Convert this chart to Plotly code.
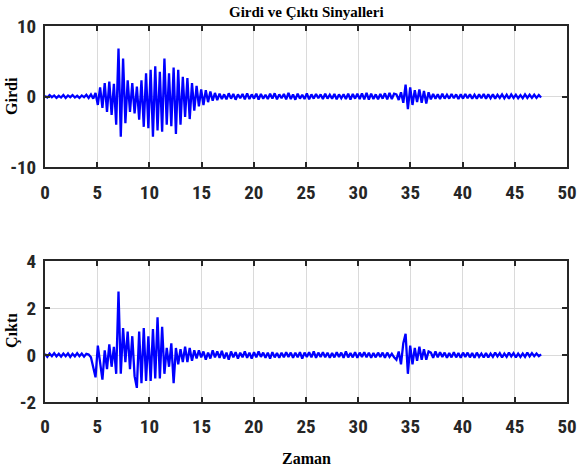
import plotly.graph_objects as go

# sampling step of the recorded signals (s)
dt = 0.22
n_samples = 217
zaman = [round(dt * i, 2) for i in range(n_samples)]

# Girdi (input) signal values
girdi = [
    # 0 - 4.6 s quiet
    0.1, -0.15, 0.2, -0.1, 0.15, -0.2, 0.1, -0.15, 0.2, -0.2,
    0.15, -0.1, 0.2, -0.15, 0.1, -0.2, 0.15, -0.1, 0.25, -0.2, 0.3, -0.3,
    # strong motion 4.8 - 16.5 s
    0.5, -1.2, 1.3, -1.6, 1.9, -2.2, 2.1, -2.6, 1.8, -4.0,
    6.8, -5.7, 5.4, -3.8, 2.3, -2.2, 1.9, -2.4, 1.4, -3.3,
    2.3, -4.3, 3.3, -4.5, 3.8, -5.7, 4.3, -4.8, 3.5, -5.0,
    5.4, -4.0, 3.3, -4.2, 4.1, -5.3, 3.8, -4.0, 2.8, -2.9,
    2.6, -3.2, 1.9, -2.0, 1.5, -1.4, 1.0, -1.2, 0.9, -0.8,
    0.7, -0.6, 0.5, -0.5,
    # 16.7 - 33.4 s
    0.4, -0.35, 0.3, -0.4, 0.45, -0.3, 0.35, -0.45, 0.3, -0.25,
    0.35, -0.4, 0.45, -0.35, 0.3, -0.3, 0.4, -0.45, 0.35, -0.3,
    0.25, -0.35, 0.4, -0.3, 0.45, -0.4, 0.3, -0.25, 0.35, -0.4,
    0.5, -0.35, 0.3, -0.45, 0.4, -0.3, 0.25, -0.35, 0.45, -0.4,
    0.3, -0.3, 0.35, -0.25, 0.3, -0.35, 0.4, -0.3, 0.25, -0.3,
    0.35, -0.4, 0.3, -0.25, 0.3, -0.35, 0.4, -0.45, 0.35, -0.3,
    0.4, -0.35, 0.45, -0.4, 0.5, -0.45, 0.4, -0.35, 0.3, -0.4,
    0.35, -0.3, 0.45, -0.4, 0.5, -0.35, 0.4,
    # burst 33.7 - 37 s
    0.3, -0.5, 0.6, -0.9, 1.7, -1.8, 1.3, -1.2, 0.9, -0.8,
    1.0, -0.9, 0.8, -1.0, 0.6, -0.4,
    # tail 37.2 - 47.5 s
    0.35, -0.3, 0.3, -0.35, 0.4, -0.3, 0.25, -0.3, 0.35, -0.25,
    0.3, -0.35, 0.3, -0.3, 0.35, -0.25, 0.3, -0.3, 0.25, -0.3,
    0.3, -0.25, 0.35, -0.3, 0.3, -0.25, 0.3, -0.3, 0.25, -0.2,
    0.3, -0.25, 0.25, -0.3, 0.3, -0.2, 0.25, -0.25, 0.2, -0.25,
    0.3, -0.2, 0.25, -0.2, 0.25, -0.2, 0.2, -0.15,
]

# Çıktı (output) signal values
cikti = [
    0.05, -0.08, 0.06, -0.05, 0.08, -0.06, 0.05, -0.07, 0.06, -0.05,
    0.07, -0.08, 0.05, -0.06, 0.08, -0.05, 0.06, -0.07, 0.05, 0.02,
    -0.1, -0.6, -0.95, 0.4, -0.3, -1.05, 0.2, -0.6, 0.45, -0.5,
    0.35, -0.8, 2.7, -0.8, 1.15, -0.3, 1.0, -0.6, 0.8, -0.9,
    -1.4, 1.0, -1.2, 1.15, -1.1, 0.8, -1.1, 1.1, -1.0, 1.6,
    -1.0, 1.2, -0.8, 0.3, -0.5, 0.5, -1.2, 0.3, -0.4, 0.25,
    -0.3, 0.35, -0.3, 0.3, -0.25, 0.2,
    -0.15, 0.2, -0.1, 0.15, -0.2, 0.1, -0.15, 0.2, -0.1, 0.15,
    -0.12, 0.18, -0.15, 0.1, -0.2, 0.15, -0.1, 0.12, -0.15, 0.1,
    -0.1, 0.15, -0.12, 0.1, -0.15, 0.12, -0.1, 0.15, -0.08, 0.1,
    -0.12, 0.1, -0.15, 0.12, -0.1, 0.08, -0.12, 0.1, -0.1, 0.12,
    -0.08, 0.1, -0.12, 0.1, -0.1, 0.12, -0.15, 0.1, -0.08, 0.12,
    -0.1, 0.15, -0.12, 0.1, -0.08, 0.12, -0.1, 0.1, -0.12, 0.08,
    -0.1, 0.12, -0.08, 0.1, -0.12, 0.15, -0.1, 0.08, -0.1, 0.12,
    -0.12, 0.1, -0.08, 0.12, -0.1, 0.1, -0.12, 0.08, -0.1, 0.1,
    -0.08, 0.1, -0.12, 0.1, -0.08, 0.05, -0.1,
    -0.2, 0.15, -0.4, 0.5, 0.9, -0.8, 0.4, -0.4, 0.3, -0.25,
    0.35, -0.2, 0.25, -0.2, 0.15,
    0.1, -0.12, 0.15, -0.1, 0.12, -0.08, 0.1, -0.12, 0.08, -0.1,
    0.12, -0.1, 0.08, -0.12, 0.1, -0.08, 0.1, -0.1, 0.08, -0.12,
    0.1, -0.08, 0.06, -0.1, 0.08, -0.1, 0.06, -0.08, 0.1, -0.06,
    0.08, -0.1, 0.06, -0.08, 0.1, -0.06, 0.08, -0.1, 0.06, -0.08,
    0.06, -0.08, 0.1, -0.06, 0.08, -0.05, 0.06, -0.05, 0.03,
]

x_ticks = [0, 5, 10, 15, 20, 25, 30, 35, 40, 45, 50]
girdi_ticks = [-10, 0, 10]
cikti_ticks = [-2, 0, 2, 4]

assert len(girdi) == n_samples and len(cikti) == n_samples

tick_font = dict(family="Roboto Condensed, Open Sans Condensed, sans-serif",
                 size=19, color="#262626", weight="bold")
serif = "Liberation Serif, Times New Roman, serif"
frame = "#262626"

fig = go.Figure()
fig.add_trace(go.Scatter(x=zaman, y=girdi, mode="lines",
                         line=dict(color="#0000ff", width=2.3), xaxis="x", yaxis="y",
                         showlegend=False))
fig.add_trace(go.Scatter(x=zaman, y=cikti, mode="lines",
                         line=dict(color="#0000ff", width=2.3), xaxis="x2", yaxis="y2",
                         showlegend=False))

common = dict(showline=True, linecolor=frame, linewidth=2, mirror="ticks",
              ticks="inside", ticklen=5, tickwidth=2, tickcolor=frame,
              showgrid=True, gridcolor="#dadada", gridwidth=1, zeroline=False,
              tickfont=tick_font, automargin=False)


def labels(vals):
    return [str(v) for v in vals]


fig.update_layout(
    width=577, height=468,
    margin=dict(l=45, r=10, t=26, b=66),
    paper_bgcolor="white", plot_bgcolor="white",
    xaxis=dict(domain=[0, 1], range=[0, 50], tickvals=x_ticks, ticktext=labels(x_ticks),
               anchor="y", ticklabelstandoff=7, **common),
    yaxis=dict(domain=[0.625, 1], range=[-10, 10], tickvals=girdi_ticks,
               ticktext=labels(girdi_ticks), anchor="x", ticklabelstandoff=3, **common),
    xaxis2=dict(domain=[0, 1], range=[0, 50], tickvals=x_ticks, ticktext=labels(x_ticks),
                anchor="y2", ticklabelstandoff=6, **common),
    yaxis2=dict(domain=[0, 0.375], range=[-2, 4], tickvals=cikti_ticks,
                ticktext=labels(cikti_ticks), anchor="x2", ticklabelstandoff=3, **common),
    annotations=[
        dict(text="<b>Girdi ve Çıktı Sinyalleri</b>", xref="paper", yref="paper",
             x=0.5, y=1.037, xanchor="center", yanchor="middle", showarrow=False,
             font=dict(family=serif, size=15, color="black")),
        dict(text="<b>Zaman</b>", xref="paper", yref="paper",
             x=0.5, y=-0.149, xanchor="center", yanchor="middle", showarrow=False,
             font=dict(family=serif, size=16, color="black")),
        dict(text="<b>Girdi</b>", xref="paper", yref="paper", textangle=-90,
             x=-0.0632, y=0.814, xanchor="center", yanchor="middle", showarrow=False,
             font=dict(family=serif, size=16, color="black")),
        dict(text="<b>Çıktı</b>", xref="paper", yref="paper", textangle=-90,
             x=-0.0632, y=0.189, xanchor="center", yanchor="middle", showarrow=False,
             font=dict(family=serif, size=16, color="black")),
    ],
)

fig.write_html("out.html")
